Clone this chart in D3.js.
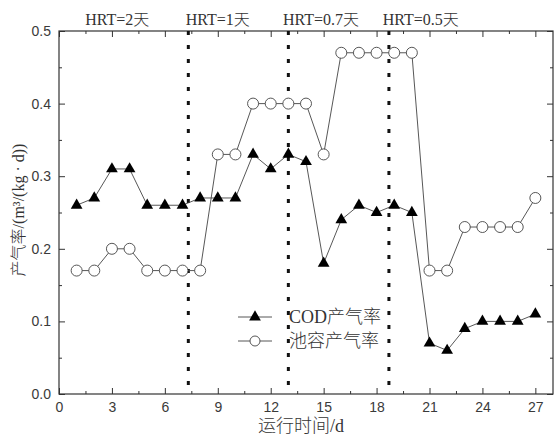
<!DOCTYPE html>
<html>
<head>
<meta charset="utf-8">
<script src="https://cdn.jsdelivr.net/npm/d3@7"></script>
<style>
  body { margin: 0; background: #fff; }
  .tick text { font-family: "Liberation Sans", Arial, sans-serif; font-size: 14px; fill: #3a3a3a; }
  .serif { font-family: "Liberation Serif", "DejaVu Serif", "Noto Sans CJK SC", serif; font-weight: 300; fill: #333; }
</style>
</head>
<body>
<div id="chart"></div>
<script>
const days = d3.range(1, 28)
const codRate = [0.26, 0.27, 0.31, 0.31, 0.26, 0.26, 0.26, 0.27, 0.27, 0.27, 0.33, 0.31, 0.33, 0.32,
  0.18, 0.24, 0.26, 0.25, 0.26, 0.25, 0.07, 0.06, 0.09, 0.10, 0.10, 0.10, 0.11]
const poolRate = [0.17, 0.17, 0.20, 0.20, 0.17, 0.17, 0.17, 0.17, 0.33, 0.33, 0.40, 0.40, 0.40, 0.40,
  0.33, 0.47, 0.47, 0.47, 0.47, 0.47, 0.17, 0.17, 0.23, 0.23, 0.23, 0.23, 0.27]
const xTicks = [0, 3, 6, 9, 12, 15, 18, 21, 24, 27]
const yTicks = [0, 0.1, 0.2, 0.3, 0.4, 0.5]
const dividers = [7.33, 13, 18.7]
const hrtLabels = ['HRT=2天', 'HRT=1天', 'HRT=0.7天', 'HRT=0.5天']
const hrtCenters = [3.3, 9.0, 14.85, 20.5]

const width = 554, height = 439
const margin = {top: 31, right: 1, bottom: 45, left: 59}

const x = d3.scaleLinear().domain([0, 28]).range([margin.left, width - margin.right])
const y = d3.scaleLinear().domain([0, 0.5]).range([height - margin.bottom, margin.top])

const svg = d3.select('#chart').append('svg')
    .attr('width', width).attr('height', height)

const minorX = xTicks.slice(0, -1).map(d => d + 1.5)
const minorY = yTicks.slice(0, -1).map(d => d + 0.05)

function styleAxis(g) {
  g.select('.domain').remove()
  g.selectAll('.tick line').attr('stroke', '#333')
}

// major + minor ticks, all pointing inward
svg.append('g')
    .attr('transform', `translate(0,${y(0)})`)
    .call(d3.axisBottom(x).tickValues(xTicks).tickSize(-6).tickPadding(8).tickFormat(d3.format('d')))
    .call(styleAxis)
svg.append('g')
    .attr('transform', `translate(0,${y(0)})`)
    .call(d3.axisBottom(x).tickValues(minorX).tickSize(-3).tickFormat(''))
    .call(styleAxis)
svg.append('g')
    .attr('transform', `translate(0,${y(0.5)})`)
    .call(d3.axisTop(x).tickValues(xTicks).tickSize(-6).tickFormat(''))
    .call(styleAxis)
svg.append('g')
    .attr('transform', `translate(0,${y(0.5)})`)
    .call(d3.axisTop(x).tickValues(minorX).tickSize(-3).tickFormat(''))
    .call(styleAxis)

svg.append('g')
    .attr('transform', `translate(${x(0)},0)`)
    .call(d3.axisLeft(y).tickValues(yTicks).tickSize(-6).tickPadding(8).tickFormat(d3.format('.1f')))
    .call(styleAxis)
svg.append('g')
    .attr('transform', `translate(${x(0)},0)`)
    .call(d3.axisLeft(y).tickValues(minorY).tickSize(-3).tickFormat(''))
    .call(styleAxis)
svg.append('g')
    .attr('transform', `translate(${x(28)},0)`)
    .call(d3.axisRight(y).tickValues(yTicks).tickSize(-6).tickFormat(''))
    .call(styleAxis)
svg.append('g')
    .attr('transform', `translate(${x(28)},0)`)
    .call(d3.axisRight(y).tickValues(minorY).tickSize(-3).tickFormat(''))
    .call(styleAxis)

svg.append('rect')
    .attr('x', x(0)).attr('y', y(0.5))
    .attr('width', x(28) - x(0)).attr('height', y(0) - y(0.5))
    .attr('fill', 'none').attr('stroke', '#333').attr('stroke-width', 1.2)

// HRT dividers
svg.append('g').selectAll('line')
  .data(dividers)
  .enter().append('line')
    .attr('x1', d => x(d)).attr('x2', d => x(d))
    .attr('y1', y(0.5)).attr('y2', y(0))
    .attr('stroke', '#111').attr('stroke-width', 3)
    .attr('stroke-dasharray', '4,10')

svg.append('g').selectAll('text')
  .data(hrtLabels)
  .enter().append('text')
    .attr('class', 'serif')
    .attr('x', (d, i) => x(hrtCenters[i]))
    .attr('y', 25)
    .attr('text-anchor', 'middle')
    .attr('font-size', 16)
    .text(d => d)

const line = d3.line().x(d => x(d[0])).y(d => y(d[1]))
const tri = d3.symbol().type(d3.symbolTriangle).size(60)

const codPts = days.map((d, i) => [d, codRate[i]])
const poolPts = days.map((d, i) => [d, poolRate[i]])

svg.append('path').datum(codPts)
    .attr('d', line).attr('fill', 'none').attr('stroke', '#444').attr('stroke-width', 0.9)
svg.append('path').datum(poolPts)
    .attr('d', line).attr('fill', 'none').attr('stroke', '#444').attr('stroke-width', 0.9)

svg.append('g').selectAll('path')
  .data(codPts)
  .enter().append('path')
    .attr('transform', d => `translate(${x(d[0])},${y(d[1])})`)
    .attr('d', tri)
    .attr('fill', '#000')

svg.append('g').selectAll('circle')
  .data(poolPts)
  .enter().append('circle')
    .attr('cx', d => x(d[0])).attr('cy', d => y(d[1]))
    .attr('r', 5.5)
    .attr('fill', '#fff').attr('stroke', '#444').attr('stroke-width', 0.9)

// legend
const legend = svg.append('g').attr('transform', 'translate(238,317)')
const items = [{name: 'COD产气率', type: 'tri'}, {name: '池容产气率', type: 'circle'}]
const row = legend.selectAll('g').data(items).enter().append('g')
    .attr('transform', (d, i) => `translate(0,${i * 24})`)
row.append('line').attr('x1', 0).attr('x2', 34).attr('stroke', '#444').attr('stroke-width', 0.9)
row.filter(d => d.type === 'tri').append('path')
    .attr('transform', 'translate(17,0)').attr('d', tri).attr('fill', '#000')
row.filter(d => d.type === 'circle').append('circle')
    .attr('cx', 17).attr('r', 5).attr('fill', '#fff').attr('stroke', '#444').attr('stroke-width', 0.9)
row.append('text')
    .attr('class', 'serif')
    .attr('x', 51).attr('y', 6)
    .attr('font-size', 18)
    .text(d => d.name)

// axis titles
svg.append('text')
    .attr('class', 'serif')
    .attr('x', 301).attr('y', 432)
    .attr('text-anchor', 'middle')
    .attr('font-size', 18)
    .text('运行时间/d')

svg.append('text')
    .attr('class', 'serif')
    .attr('transform', 'translate(24,210) rotate(-90)')
    .attr('text-anchor', 'middle')
    .attr('font-size', 16)
    .text('产气率/(m³/(kg · d))')
</script>
</body>
</html>
